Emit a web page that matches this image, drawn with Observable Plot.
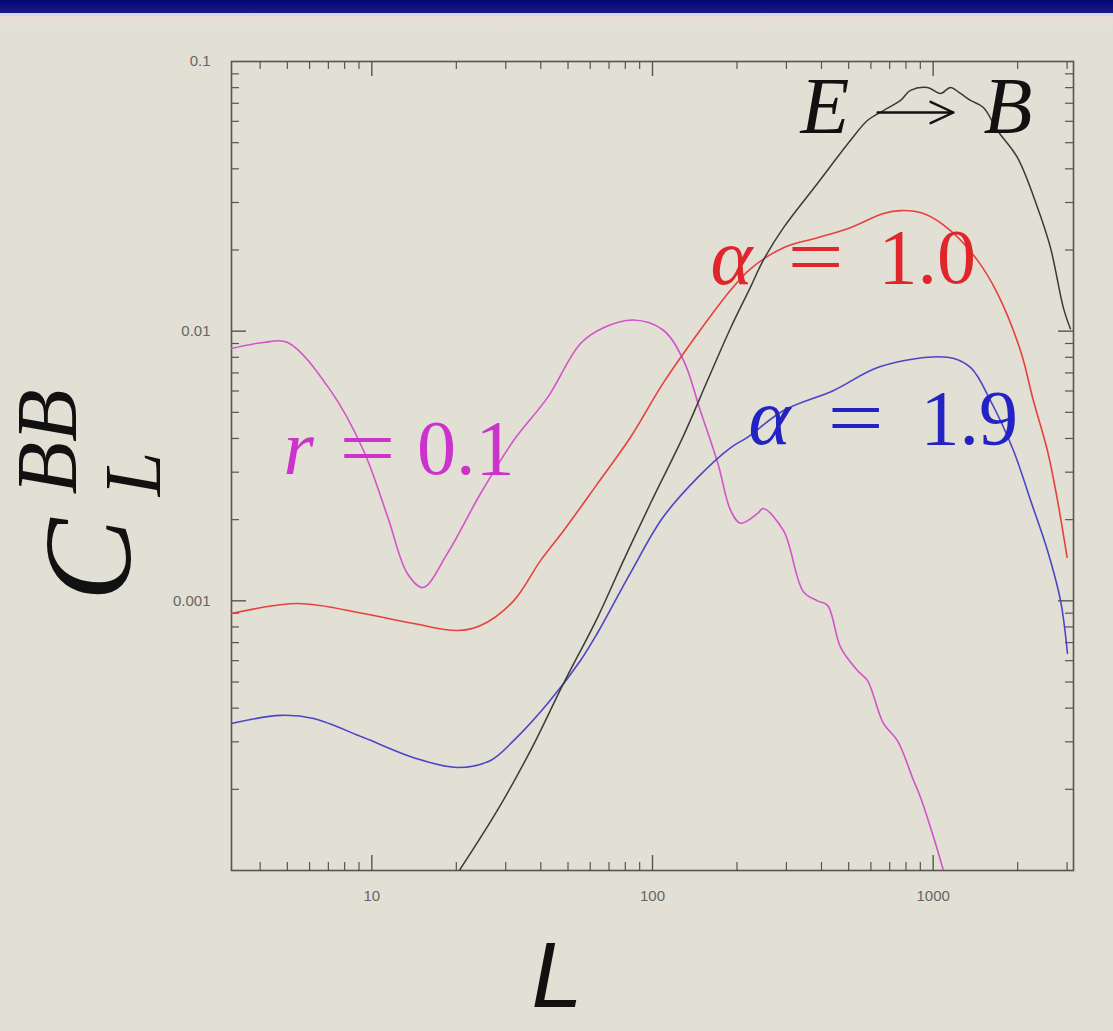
<!DOCTYPE html>
<html>
<head>
<meta charset="utf-8">
<script src="https://cdn.jsdelivr.net/npm/d3@7"></script>
<script src="https://cdn.jsdelivr.net/npm/@observablehq/plot@0.6"></script>
<style>
  html, body { margin: 0; padding: 0; background: #e2dfd4; overflow: hidden; }
  #wrap { position: relative; width: 1113px; height: 1031px; }
  #band1 { position: absolute; left: 0; top: 0; width: 1113px; height: 13px; background: linear-gradient(#060670, #1a1a8c); }
  #band2 { position: absolute; left: 0; top: 13px; width: 1113px; height: 3px; background: #d4d4e8; }
  #band3 { position: absolute; left: 0; top: 16px; width: 1113px; height: 14px; background: linear-gradient(#e8e0d8, #e2dfd4); }
  #chart { position: absolute; left: 0; top: 0; }
</style>
</head>
<body>
<div id="wrap">
  <div id="band1"></div><div id="band2"></div><div id="band3"></div>
  <div id="chart"></div>
</div>
<script>
// ---- data (multipole L, C_L^BB) ----
const rL = [3.16, 4.11, 5.01, 7.12, 9.34, 11.4, 13.4, 15.2, 18.6, 24.4, 32.0, 42.3, 55.4, 66.9, 85.5, 109, 129, 148, 171, 190, 206, 237, 248, 293, 345, 387, 421, 468, 537, 583, 665, 746, 851, 901, 1003, 1120];
const rV = [0.00863, 0.00908, 0.00908, 0.00603, 0.00361, 0.00204, 0.00126, 0.00112, 0.00150, 0.00250, 0.00393, 0.00568, 0.0090, 0.0103, 0.0110, 0.0101, 0.00779, 0.00508, 0.00323, 0.00216, 0.00194, 0.00211, 0.00220, 0.00182, 0.00108, 0.00100, 0.000960, 0.000672, 0.000552, 0.000507, 0.000351, 0.000303, 0.000216, 0.000187, 0.000133, 0.00009];

const a10L = [3.16, 5.44, 9.34, 14.1, 20.2, 24.4, 32.0, 39.9, 48.2, 63.7, 83.5, 109, 145, 190, 223, 293, 387, 507, 665, 765, 924, 1153, 1439, 1694, 2046, 2275, 2553, 2773, 3000];
const a10V = [0.000897, 0.000977, 0.000897, 0.000824, 0.000776, 0.000810, 0.00100, 0.00141, 0.00182, 0.00272, 0.00404, 0.00640, 0.0098, 0.0142, 0.0170, 0.0204, 0.0222, 0.0242, 0.0273, 0.0280, 0.0273, 0.0236, 0.0183, 0.0138, 0.00848, 0.00553, 0.00361, 0.00236, 0.00145];

const a19L = [3.16, 4.73, 6.20, 9.34, 14.1, 20.2, 26.5, 32.0, 42.3, 55.4, 63.7, 83.5, 109, 145, 190, 218, 293, 442, 649, 1125, 1358, 1600, 1932, 2223, 2553, 2844, 3010];
const a19V = [0.000351, 0.000376, 0.000366, 0.000311, 0.000262, 0.000241, 0.000256, 0.000303, 0.000416, 0.000601, 0.00076, 0.00127, 0.00204, 0.00287, 0.00370, 0.00404, 0.00508, 0.00603, 0.0074, 0.0080, 0.00734, 0.00553, 0.00361, 0.00236, 0.00154, 0.00100, 0.000638];

const lensL = [20.5, 28.0, 36.8, 48.2, 63.7, 78.8, 98.4, 129, 157, 190, 223, 248, 293, 387, 507, 583, 665, 765, 830, 955, 1062, 1153, 1251, 1358, 1510, 1694, 1995, 2355, 2618, 2911, 3083];
const lensV = [0.0001, 0.000167, 0.000279, 0.000494, 0.000867, 0.00141, 0.0023, 0.0041, 0.00656, 0.0103, 0.0145, 0.0183, 0.0242, 0.0353, 0.0509, 0.0604, 0.0658, 0.0717, 0.0781, 0.0801, 0.0761, 0.0801, 0.0761, 0.0717, 0.0675, 0.0555, 0.0441, 0.0287, 0.0204, 0.0122, 0.0102];

// axis ticks
const xMajor = [10, 100, 1000];
const xMinor = [4, 5, 6, 7, 8, 9, 20, 30, 40, 50, 60, 70, 80, 90, 200, 300, 400, 500, 600, 700, 800, 900, 2000, 3000];
const yMajor = [0.001, 0.01];
const yLabels = [0.1, 0.01, 0.001];
const yMinor = [2e-4, 3e-4, 4e-4, 5e-4, 6e-4, 7e-4, 8e-4, 9e-4, 2e-3, 3e-3, 4e-3, 5e-3, 6e-3, 7e-3, 8e-3, 9e-3, 0.02, 0.03, 0.04, 0.05, 0.06, 0.07, 0.08, 0.09];

// annotations (data coordinates): alpha labels split into symbol, "=", value
const alphaSym = ["α", "α"];
const alphaSymL = [161, 220];
const alphaEqL = [381, 529];
const alphaNum = ["1.0", "1.9"];
const alphaNumL = [638, 901];
const alphaV = [0.0186, 0.00474];
const alphaColor = ["#e0262b", "#2323c4"];
const rParts = ["r", "=", "0.1"];
const rPartL = [4.84, 9.65, 14.5];
const rPartV = 0.00367;
const ebText = ["E", "B"];
const ebL = [337, 1511];
const ebV = [0.0675, 0.0675];
const arrowL = [634, 1181];
const arrowV = 0.0647;

const zip = (Ls, Vs) => Ls.map((L, i) => ({L, v: Vs[i]}));
const rData = zip(rL, rV), a10Data = zip(a10L, a10V), a19Data = zip(a19L, a19V), lensData = zip(lensL, lensV);

const W = 1113, H = 1031, mL = 231, mR = 40, mT = 61, mB = 161;
const iW = W - mL - mR, iH = H - mT - mB;
const axisCol = "#555";
const serif = "Liberation Serif, Times New Roman, serif";
const idx = [0, 1];

const chart = Plot.plot({
  width: W, height: H,
  marginLeft: mL, marginRight: mR, marginTop: mT, marginBottom: mB,
  style: {background: "transparent", fontFamily: "Liberation Sans, Arial, sans-serif"},
  x: {type: "log", domain: [Math.pow(10, 0.5), Math.pow(10, 3.5)]},
  y: {type: "log", domain: [1e-4, 0.1]},
  marks: [
    // inward ticks on four sides
    Plot.tickX(xMinor, {x: d => d, insetTop: iH - 8, stroke: axisCol, strokeWidth: 1.2}),
    Plot.tickX(xMajor, {x: d => d, insetTop: iH - 15, stroke: axisCol, strokeWidth: 1.4}),
    Plot.tickX(xMinor, {x: d => d, insetBottom: iH - 8, stroke: axisCol, strokeWidth: 1.2}),
    Plot.tickX(xMajor, {x: d => d, insetBottom: iH - 15, stroke: axisCol, strokeWidth: 1.4}),
    Plot.tickY(yMinor, {y: d => d, insetRight: iW - 8, stroke: axisCol, strokeWidth: 1.2}),
    Plot.tickY(yMajor, {y: d => d, insetRight: iW - 15, stroke: axisCol, strokeWidth: 1.4}),
    Plot.tickY(yMinor, {y: d => d, insetLeft: iW - 8, stroke: axisCol, strokeWidth: 1.2}),
    Plot.tickY(yMajor, {y: d => d, insetLeft: iW - 15, stroke: axisCol, strokeWidth: 1.4}),
    Plot.frame({stroke: axisCol, strokeWidth: 1.6}),
    Plot.axisX({ticks: xMajor, tickSize: 0, tickPadding: 20, tickFormat: d => String(d), fontSize: 15, color: "#666", label: null}),
    Plot.axisY({ticks: yLabels, tickSize: 0, tickPadding: 21, tickFormat: d => String(d), fontSize: 15, color: "#666", label: null}),
    // curves
    Plot.line(rData, {x: "L", y: "v", stroke: "#d452cc", strokeWidth: 1.6, curve: "catmull-rom", clip: true}),
    Plot.line(a10Data, {x: "L", y: "v", stroke: "#e6403f", strokeWidth: 1.6, curve: "catmull-rom", clip: true}),
    Plot.line(a19Data, {x: "L", y: "v", stroke: "#4a46c8", strokeWidth: 1.6, curve: "catmull-rom", clip: true}),
    Plot.line(lensData, {x: "L", y: "v", stroke: "#3a3a3a", strokeWidth: 1.5, curve: "catmull-rom", clip: true}),
    // annotations: alpha = ...
    Plot.text(idx, {x: i => alphaSymL[i], y: i => alphaV[i], text: i => alphaSym[i], fill: i => alphaColor[i], textAnchor: "start", fontSize: 80, fontStyle: "italic", fontFamily: serif}),
    Plot.text(idx, {x: i => alphaEqL[i], y: i => alphaV[i], text: () => "=", fill: i => alphaColor[i], textAnchor: "middle", fontSize: 78, fontFamily: serif}),
    Plot.text(idx, {x: i => alphaNumL[i], y: i => alphaV[i], text: i => alphaNum[i], fill: i => alphaColor[i], textAnchor: "start", fontSize: 78, fontFamily: serif}),
    // r = 0.1
    Plot.text([rParts[0]], {x: () => rPartL[0], y: () => rPartV, text: d => d, fill: "#cc33cc", textAnchor: "start", fontSize: 78, fontStyle: "italic", fontFamily: serif}),
    Plot.text([rParts[1]], {x: () => rPartL[1], y: () => rPartV, text: d => d, fill: "#cc33cc", textAnchor: "middle", fontSize: 78, fontFamily: serif}),
    Plot.text([rParts[2]], {x: () => rPartL[2], y: () => rPartV, text: d => d, fill: "#cc33cc", textAnchor: "start", fontSize: 78, fontFamily: serif}),
    // E -> B
    Plot.text(ebText, {x: (d, i) => ebL[i], y: (d, i) => ebV[i], text: d => d, fill: "#111", textAnchor: "start", fontSize: 80, fontStyle: "italic", fontFamily: serif}),
    Plot.arrow([0], {x1: () => arrowL[0], x2: () => arrowL[1], y1: () => arrowV, y2: () => arrowV, stroke: "#111", strokeWidth: 2.4, headLength: 22, headAngle: 50})
  ]
});

document.getElementById("chart").appendChild(chart);

const svg = d3.select(chart);
// widen the "=" glyphs a little (TeX style) without moving their centres
try {
  svg.selectAll("text").filter(function() { return this.textContent === "="; }).each(function() {
    const bb = this.getBBox();
    const cx = bb.x + bb.width / 2;
    const prev = this.getAttribute("transform") || "";
    this.setAttribute("transform", `${prev} translate(${cx},0) scale(1.28,1) translate(${-cx},0)`);
  });
} catch (e) {}
// y-axis title: C_L^{BB} (rotated)
svg.append("text").attr("transform", "translate(130,560) rotate(-90)").attr("text-anchor", "middle")
  .attr("font-family", serif).attr("font-style", "italic").attr("font-size", 124).attr("fill", "#111").text("C");
svg.append("text").attr("transform", "translate(76,442) rotate(-90)").attr("text-anchor", "middle")
  .attr("font-family", serif).attr("font-style", "italic").attr("font-size", 86).attr("fill", "#111").text("BB");
svg.append("text").attr("transform", "translate(160,474) rotate(-90)").attr("text-anchor", "middle")
  .attr("font-family", serif).attr("font-style", "italic").attr("font-size", 80).attr("fill", "#111").text("L");
// x-axis title
svg.append("text").attr("x", 557).attr("y", 1007).attr("text-anchor", "middle")
  .attr("font-family", "Liberation Sans, Arial, sans-serif").attr("font-style", "italic").attr("font-size", 92).attr("fill", "#111").text("L");
</script>
</body>
</html>
